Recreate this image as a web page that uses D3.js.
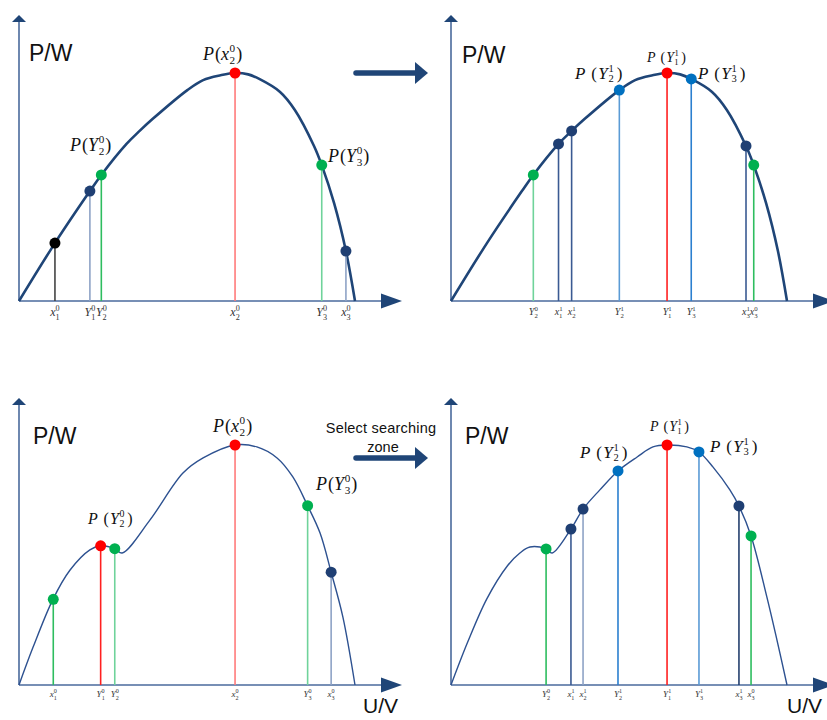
<!DOCTYPE html>
<html><head><meta charset="utf-8">
<script src="https://cdn.jsdelivr.net/npm/d3@7"></script>
<style>body{margin:0;background:#fff} svg{display:block}</style>
</head><body>
<svg id="c" width="827" height="720"></svg>
<script>
// ---------------- DATA ----------------
// P-U curves (U and P in % of Voc / Pmax)
const curveTopU = [0,10.7,21.1,24.5,32.0,35.9,39.9,50.1,54.8,60.0,64.3,68.2,71.5,77.7,82.1,87.8,90.1,93.8,97.3,100];
const curveTopP = [0,25.4,48.2,55.3,68.9,74.6,80.0,92.5,96.9,99.0,100,99.4,97.4,91.7,83.8,68.0,59.6,42.8,21.9,0];
const curveBLU = [0,4.2,10.1,15.2,21.1,24.3,28.5,30.7,39.0,48.8,54.8,64.3,70.8,76.8,81.5,85.9,89.6,92.9,96.4,100];
const curveBLP = [0,15.8,35.7,47.9,56.3,58.0,56.8,55.0,68.8,88.3,94.6,100,99.2,94.6,86.7,74.7,63.3,47.0,28.3,0];
const curveBRU = [0,5.0,10.7,16.7,20.5,23.5,28.3,30.1,35.7,39.3,44.3,49.7,55.4,60.1,64.3,70.2,73.8,78.0,83.0,85.7,89.3,94.0,97.0,100];
const curveBRP = [0,18.0,36.0,49.5,55.0,57.5,56.7,55.0,65.0,73.3,81.3,89.2,95.0,99.2,100,99.2,97.1,90.8,81.3,74.6,62.1,36.7,18.8,0];

// sample points: label "letter|sub|sup", U, P
const p1Names = ["x|1|0","Y|1|0","Y|2|0","x|2|0","Y|3|0","x|3|0"];
const p1U = [10.7,21.1,24.5,64.3,90.1,97.3];
const p1P = [25.4,48.2,55.3,100,59.6,21.9];
const p2Names = ["Y|2|0","x|1|1","x|2|1","Y|2|1","Y|1|1","Y|3|1","x|3|1","x|3|0"];
const p2U = [24.5,32.0,35.9,50.1,64.3,71.5,87.8,90.1];
const p2P = [55.3,68.9,74.6,92.5,100,97.4,68.0,59.6];
const p3Names = ["x|1|0","Y|1|0","Y|2|0","x|2|0","Y|3|0","x|3|0"];
const p3U = [10.2,24.3,28.5,64.3,85.9,92.9];
const p3P = [35.7,58.0,56.8,100,74.7,47.0];
const p4Names = ["Y|2|0","x|1|1","x|2|1","Y|2|1","Y|1|1","Y|3|1","x|3|1","x|3|0"];
const p4U = [28.3,35.7,39.3,49.7,64.3,73.8,85.7,89.3];
const p4P = [56.7,65.0,73.3,89.2,100,97.1,74.6,62.1];

// point annotations: which sample each names
const p1Ann = ["x|2|0","Y|2|0","Y|3|0"];
const p2Ann = ["Y|2|1","Y|1|1","Y|3|1"];
const p3Ann = ["x|2|0","Y|2|0","Y|3|0"];
const p4Ann = ["Y|1|1","Y|2|1","Y|3|1"];

const axisY = "P/W", axisX = "U/V";
const stepText = ["Select searching","zone"];

// ---------------- STYLES / LAYOUT ----------------
const C = {black:"#000", navy:"#1f3f73", green:"#00b050", red:"#ff0000", blue:"#0070c0"};
const L = {black:"#444", slate:"#8ea3c6", navyL:"#3a5a92", green:"#2ebd5f", greenL:"#6fd39a", red:"#ff2020", redL:"#ff7b7b", blue:"#2b7fcf", blueL:"#5b9bd5"};
const p1Style = [[C.black,L.black],[C.navy,L.slate],[C.green,L.green],[C.red,L.redL],[C.green,L.greenL],[C.navy,L.slate]];
const p2Style = [[C.green,L.greenL],[C.navy,L.navyL],[C.navy,L.navyL],[C.blue,L.blueL],[C.red,L.red],[C.blue,L.blue],[C.navy,L.navyL],[C.green,L.green]];
const p3Style = [[C.green,L.green],[C.red,L.red],[C.green,L.greenL],[C.red,L.redL],[C.green,L.greenL],[C.navy,L.slate]];
const p4Style = [[C.green,L.green],[C.navy,L.navyL],[C.navy,L.slate],[C.blue,L.blue],[C.red,L.red],[C.blue,L.blueL],[C.navy,"#25406e"],[C.green,L.green]];

const svg = d3.select("#c");
const SERIF = "'Liberation Serif','Times New Roman',serif";
const SANS = "'Liberation Sans',Arial,sans-serif";
const AX = "#4a6a9c", AXH = "#1f4577";

function panel(cfg){
  const g = svg.append("g");
  const x = d3.scaleLinear().domain([0,100]).range([cfg.x0, cfg.x1]);
  const y = d3.scaleLinear().domain([0,100]).range([cfg.y0, cfg.y1]);
  // axes
  g.append("line").attr("x1",cfg.x0).attr("x2",cfg.xTip-18).attr("y1",cfg.y0).attr("y2",cfg.y0)
    .attr("stroke",AX).attr("stroke-width",1.6);
  g.append("line").attr("x1",cfg.x0).attr("x2",cfg.x0).attr("y1",cfg.y0).attr("y2",cfg.yTip+6)
    .attr("stroke",AX).attr("stroke-width",1.6);
  g.append("path").attr("d",`M${cfg.xTip},${cfg.y0} L${cfg.xTip-21},${cfg.y0-7.5} L${cfg.xTip-21},${cfg.y0+7.5}Z`).attr("fill",AXH);
  g.append("path").attr("d",`M${cfg.x0},${cfg.yTip} L${cfg.x0-7},${cfg.yTip+7} L${cfg.x0+7},${cfg.yTip+7}Z`).attr("fill",AXH);
  // curve
  const pts = cfg.cu.map((u,i)=>[u,cfg.cp[i]]);
  g.append("path").datum(pts)
    .attr("d", d3.line().x(d=>x(d[0])).y(d=>y(d[1])).curve(d3.curveCatmullRom.alpha(0.5)))
    .attr("fill","none").attr("stroke",cfg.curveColor).attr("stroke-width",cfg.curveW).attr("stroke-linejoin","round");
  // drop lines + dots + tick labels
  cfg.names.forEach((n,i)=>{
    const px = x(cfg.u[i]), py = y(cfg.p[i]);
    g.append("line").attr("x1",px).attr("x2",px).attr("y1",cfg.y0).attr("y2",py)
      .attr("stroke",cfg.style[i][1]).attr("stroke-width",1.6);
  });
  cfg.names.forEach((n,i)=>{
    const px = x(cfg.u[i]), py = y(cfg.p[i]);
    g.append("circle").attr("cx",px).attr("cy",py).attr("r",5.5).attr("fill",cfg.style[i][0]);
    tickLabel(g, px, cfg.y0 + cfg.tickDy, n, cfg.tickSize);
  });
  // y label
  g.append("text").attr("x",cfg.pwX).attr("y",cfg.pwY).text(axisY)
    .attr("font-family",SANS).attr("font-size",23).attr("fill","#111");
  if(cfg.uvX) g.append("text").attr("x",cfg.uvX).attr("y",cfg.uvY).text(axisX)
    .attr("font-family",SANS).attr("font-size",21).attr("fill","#111");
  // annotations
  cfg.ann.forEach((a,k)=>{
    const pos = cfg.annPos[k];
    pointLabel(g, pos[0], pos[1], a, pos[2], pos[3]);
  });
}

function tickLabel(g, cx, by, name, s){
  const [l,sub,sup] = name.split("|");
  const t = g.append("text").attr("font-family",SERIF).attr("fill","#333").attr("y",by);
  t.append("tspan").text(l).attr("font-style","italic").attr("font-size",s);
  t.append("tspan").text(sup).attr("font-size",s*0.68).attr("dy",-s*0.45);
  t.append("tspan").text(sub).attr("font-size",s*0.68).attr("dx",-s*0.34).attr("dy",s*0.75);
  const w = t.node().getComputedTextLength();
  t.attr("x", cx - w/2 + s*0.17);
}

function pointLabel(g, lx, by, name, s, spaced){
  const [l,sub,sup] = name.split("|");
  const t = g.append("text").attr("font-family",SERIF).attr("fill","#111").attr("x",lx).attr("y",by).attr("font-size",s);
  t.append("tspan").text("P").attr("font-style","italic");
  t.append("tspan").text("(").attr("dx",(spaced ? s*0.3 : 0)+s*0.05);
  t.append("tspan").text(l).attr("font-style","italic").attr("dx",spaced ? s*0.08 : 0);
  t.append("tspan").text(sup).attr("font-size",s*0.62).attr("dy",-s*0.42).attr("dx",s*0.04);
  t.append("tspan").text(sub).attr("font-size",s*0.62).attr("dx",-s*0.31).attr("dy",s*0.62);
  t.append("tspan").text(")").attr("dy",-s*0.2).attr("dx",(spaced ? s*0.12 : 0)+s*0.06);
}

function stepArrow(y){
  svg.append("line").attr("x1",356).attr("x2",417).attr("y1",y).attr("y2",y)
    .attr("stroke","#1f4577").attr("stroke-width",5.5).attr("stroke-linecap","round");
  svg.append("path").attr("d",`M428,${y} L415,${y-11} L415,${y+11}Z`).attr("fill","#1f4577");
}

panel({x0:19,x1:355,y0:301,y1:73,xTip:402,yTip:15,cu:curveTopU,cp:curveTopP,curveColor:"#1f4577",curveW:2.6,
  names:p1Names,u:p1U,p:p1P,style:p1Style,tickDy:15,tickSize:12,pwX:29,pwY:61,
  ann:p1Ann,annPos:[[203,60,18,false],[70,151,18,false],[328,162,18,false]]});
panel({x0:451,x1:787,y0:301,y1:73,xTip:834,yTip:15,cu:curveTopU,cp:curveTopP,curveColor:"#1f4577",curveW:2.6,
  names:p2Names,u:p2U,p:p2P,style:p2Style,tickDy:14,tickSize:10,pwX:462,pwY:63,
  ann:p2Ann,annPos:[[575,79,17,true],[647,62,14,true],[698,79,17,true]]});
panel({x0:19,x1:355,y0:685,y1:445,xTip:402,yTip:398,cu:curveBLU,cp:curveBLP,curveColor:"#2d5190",curveW:1.4,
  names:p3Names,u:p3U,p:p3P,style:p3Style,tickDy:12,tickSize:9,pwX:33,pwY:444,uvX:363,uvY:713,
  ann:p3Ann,annPos:[[213,432,18,false],[88,524,16,true],[316,490,18,false]]});
panel({x0:451,x1:787,y0:685,y1:445,xTip:834,yTip:398,cu:curveBRU,cp:curveBRP,curveColor:"#2d5190",curveW:1.4,
  names:p4Names,u:p4U,p:p4P,style:p4Style,tickDy:12,tickSize:9,pwX:465,pwY:444,uvX:787,uvY:713,
  ann:p4Ann,annPos:[[650,431,14,true],[580,458,17,true],[710,452,17,true]]});

stepArrow(73);
stepArrow(458);
svg.append("text").attr("x",381).attr("y",433).attr("text-anchor","middle").text(stepText[0])
  .attr("font-family",SANS).attr("font-size",14.5).attr("letter-spacing",0.2).attr("fill","#111");
svg.append("text").attr("x",383).attr("y",452).attr("text-anchor","middle").text(stepText[1])
  .attr("font-family",SANS).attr("font-size",14.5).attr("fill","#111");
</script>
</body></html>
